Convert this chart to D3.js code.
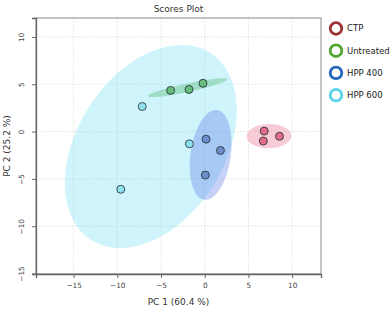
<!DOCTYPE html>
<html>
<head>
<meta charset="utf-8">
<script src="https://cdn.jsdelivr.net/npm/d3@7"></script>
<style>
  body { margin: 0; background: #fff; }
  svg text { font-family: "DejaVu Sans", Verdana, sans-serif; }
</style>
</head>
<body>
<svg id="chart" width="390" height="309"></svg>
<script>
// groups and their PCA scores
let groups = ['CTP', 'Untreated', 'HPP 400', 'HPP 600'];
let pc1 = {
  'CTP': [6.8, 6.7, 8.55],
  'Untreated': [-3.9, -1.8, -0.2],
  'HPP 400': [0.15, 1.8, 0.07],
  'HPP 600': [-7.15, -1.75, -9.6]
};
let pc2 = {
  'CTP': [0.05, -1.0, -0.5],
  'Untreated': [4.35, 4.45, 5.1],
  'HPP 400': [-0.8, -2.0, -4.6],
  'HPP 600': [2.65, -1.3, -6.1]
};
let xTicks = [-15, -10, -5, 0, 5, 10];
let yTicks = [-15, -10, -5, 0, 5, 10];

let ringColor = { 'CTP': '#9a3434', 'Untreated': '#52a832', 'HPP 400': '#2467bd', 'HPP 600': '#5bd3ea' };
let dotColor = { 'CTP': '#e26c86', 'Untreated': '#67bd79', 'HPP 400': '#6c8ecb', 'HPP 600': '#8ee2ee' };
let ellFill = { 'CTP': 'rgba(236,120,146,0.38)', 'Untreated': 'rgba(80,185,110,0.38)', 'HPP 400': 'rgba(85,120,230,0.34)', 'HPP 600': 'rgba(100,220,245,0.3)' };
// drawing order of the ellipses
let ellOrder = ['HPP 600', 'Untreated', 'HPP 400', 'CTP'];

let svg = d3.select('#chart');
let mLeft = 36, mRight = 321, mTop = 18, mBottom = 274;

let x = d3.scaleLinear().domain([-19.3, 13.3]).range([mLeft, mRight]);
let y = d3.scaleLinear().domain([-15.05, 12]).range([mBottom, mTop]);

// grid
svg.append('g').selectAll('line').data(xTicks).enter().append('line')
  .attr('x1', d => x(d)).attr('x2', d => x(d)).attr('y1', mTop).attr('y2', mBottom)
  .attr('stroke', '#dcdcdc').attr('stroke-dasharray', '1.5,1.5').attr('stroke-width', 0.8);
svg.append('g').selectAll('line').data(yTicks).enter().append('line')
  .attr('y1', d => y(d)).attr('y2', d => y(d)).attr('x1', mLeft).attr('x2', mRight)
  .attr('stroke', '#dcdcdc').attr('stroke-dasharray', '1.5,1.5').attr('stroke-width', 0.8);

// 95% confidence ellipse from the group covariance
let k = Math.sqrt(5.991);
let ellipsePath = (g) => {
  let xs = pc1[g], ys = pc2[g], n = xs.length;
  let mx = d3.mean(xs), my = d3.mean(ys);
  let sxx = 0, syy = 0, sxy = 0;
  for (let i = 0; i < n; i++) {
    sxx += (xs[i] - mx) ** 2;
    syy += (ys[i] - my) ** 2;
    sxy += (xs[i] - mx) * (ys[i] - my);
  }
  sxx /= n - 1; syy /= n - 1; sxy /= n - 1;
  // cholesky
  let a = Math.sqrt(sxx), b = sxy / a, c = Math.sqrt(Math.max(syy - b * b, 1e-9));
  let pts = d3.range(0, 2 * Math.PI + 0.01, Math.PI / 60).map(t => {
    let u = Math.cos(t), v = Math.sin(t);
    return [x(mx + k * a * u), y(my + k * (b * u + c * v))];
  });
  return d3.line()(pts) + 'Z';
};

svg.append('g').selectAll('path').data(ellOrder).enter().append('path')
  .attr('d', g => ellipsePath(g))
  .attr('fill', g => ellFill[g]);

// points
groups.forEach(g => {
  svg.append('g').selectAll('circle').data(d3.range(pc1[g].length)).enter().append('circle')
    .attr('cx', i => x(pc1[g][i])).attr('cy', i => y(pc2[g][i])).attr('r', 4)
    .attr('fill', dotColor[g]).attr('stroke', '#2f3a44').attr('stroke-width', 0.9);
});

// frame
svg.append('rect').attr('x', mLeft).attr('y', mTop).attr('width', mRight - mLeft).attr('height', mBottom - mTop)
  .attr('fill', 'none').attr('stroke', '#8a8a8a').attr('stroke-width', 1);

// axes
let xAxis = svg.append('g').attr('transform', `translate(0,${mBottom})`)
  .call(d3.axisBottom(x).tickValues(xTicks).tickSize(4).tickPadding(5).tickFormat(d3.format('d')));
let yAxis = svg.append('g').attr('transform', `translate(${mLeft},0)`)
  .call(d3.axisLeft(y).tickValues(yTicks).tickSize(4).tickPadding(5).tickFormat(d3.format('d')));
[xAxis, yAxis].forEach(ax => {
  ax.select('.domain').attr('stroke', '#666').attr('stroke-width', 1.3);
  ax.selectAll('.tick line').attr('stroke', '#666');
  ax.selectAll('text').attr('fill', '#444').style('font-size', '7.3px');
});
yAxis.selectAll('.tick text')
  .attr('text-anchor', 'middle').attr('x', 0).attr('dy', 0)
  .attr('transform', 'translate(-12,0) rotate(-90)');

// titles
svg.append('text').attr('x', (mLeft + mRight) / 2).attr('y', 12).attr('text-anchor', 'middle')
  .style('font-size', '9px').attr('fill', '#333').text('Scores Plot');
svg.append('text').attr('x', (mLeft + mRight) / 2).attr('y', 305).attr('text-anchor', 'middle')
  .style('font-size', '9px').attr('fill', '#333').text('PC 1 (60.4 %)');
svg.append('text').attr('transform', `translate(10,${(mTop + mBottom) / 2}) rotate(-90)`).attr('text-anchor', 'middle')
  .style('font-size', '9px').attr('fill', '#333').text('PC 2 (25.2 %)');

// legend
let legend = svg.append('g').selectAll('g').data(groups).enter().append('g')
  .attr('transform', (d, i) => `translate(336,${28.5 + i * 22.2})`);
legend.append('circle').attr('r', 5.8).attr('fill', 'none')
  .attr('stroke', d => ringColor[d]).attr('stroke-width', 2.8);
legend.append('text').attr('x', 11).attr('dy', '0.35em')
  .style('font-size', '8.5px').attr('fill', '#222').text(d => d);
</script>
</body>
</html>
